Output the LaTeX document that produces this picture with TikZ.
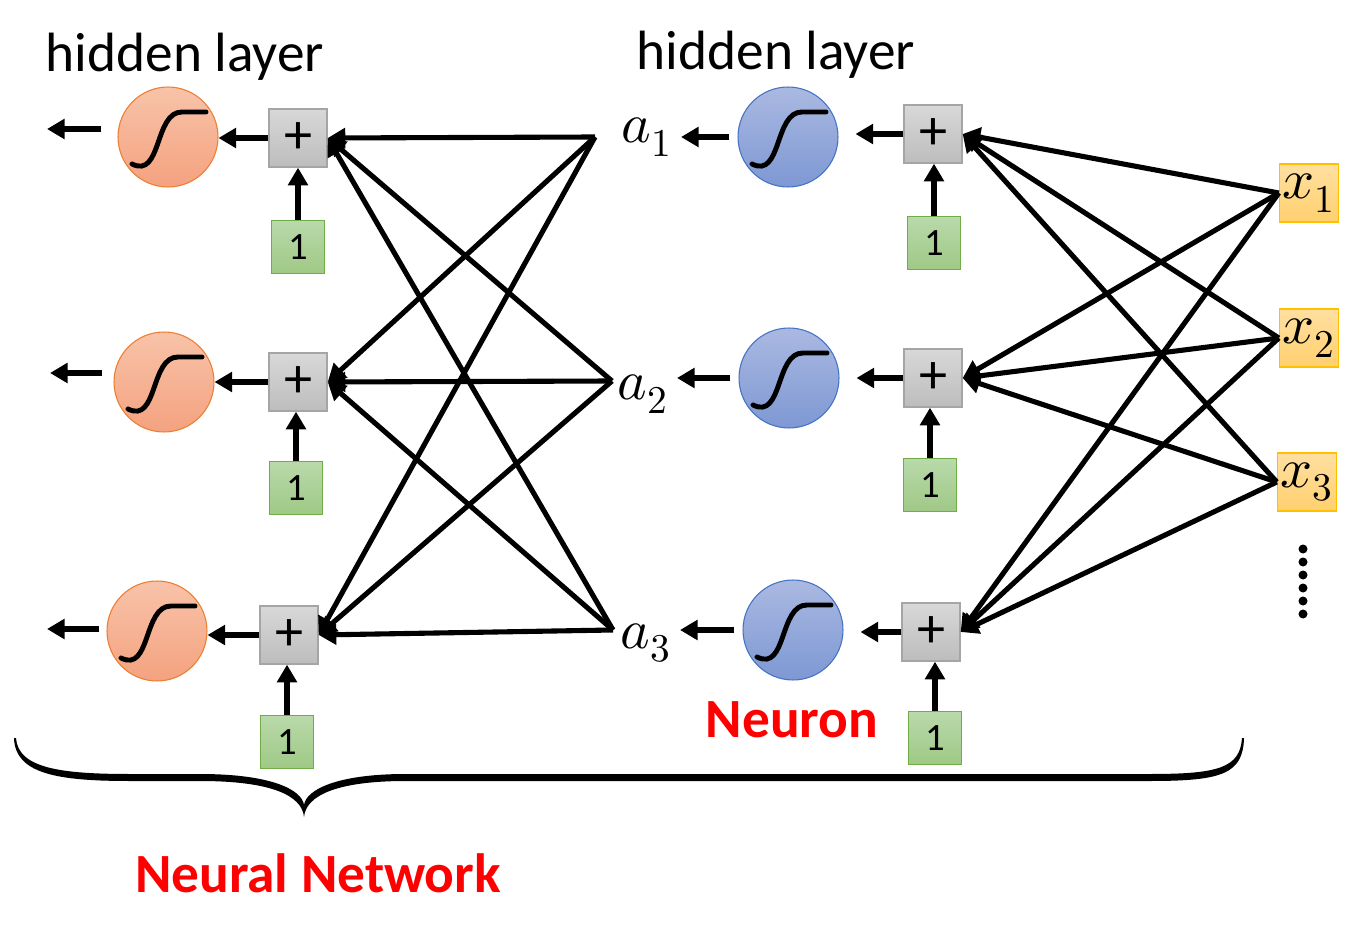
\documentclass[tikz,border=0pt]{standalone}
\usepackage{fontspec}
\setmainfont{Carlito}
\usepackage{unicode-math}
\setmathfont{Latin Modern Math}
\usetikzlibrary{arrows.meta,positioning,calc}

\definecolor{orgtop}{HTML}{F8C3A9}
\definecolor{orgbot}{HTML}{F4A27F}
\definecolor{orgline}{HTML}{ED7D31}
\definecolor{blutop}{HTML}{AAB9E1}
\definecolor{blubot}{HTML}{7E98D4}
\definecolor{bluline}{HTML}{4472C4}
\definecolor{graytop}{HTML}{D8D8D8}
\definecolor{graybot}{HTML}{BDBDBD}
\definecolor{grayline}{HTML}{A5A5A5}
\definecolor{grntop}{HTML}{B9D9AA}
\definecolor{grnbot}{HTML}{9FC986}
\definecolor{grnline}{HTML}{70AD47}
\definecolor{yeltop}{HTML}{FFDFA1}
\definecolor{yelbot}{HTML}{FFD06E}
\definecolor{yelline}{HTML}{FFC000}
\definecolor{labred}{HTML}{FF0000}

\tikzset{
  conn/.style={line width=2.9pt,-{Triangle[length=10pt,width=11pt]}},
  sigline/.style={line width=2.8pt,line cap=round},
  outneuron/.style={circle,minimum size=2cm,draw=orgline,line width=0.6pt,top color=orgtop,bottom color=orgbot},
  hidneuron/.style={circle,minimum size=2cm,draw=bluline,line width=0.6pt,top color=blutop,bottom color=blubot},
  sumbox/.style={draw=grayline,line width=0.8pt,minimum size=1.16cm,inner sep=0pt,top color=graytop,bottom color=graybot,font=\fontsize{32}{34}\selectfont},
  biasbox/.style={draw=grnline,line width=0.8pt,minimum size=1.05cm,inner sep=0pt,top color=grntop,bottom color=grnbot,font=\fontsize{22}{24}\selectfont},
  inbox/.style={draw=yelline,line width=0.8pt,minimum width=1.18cm,minimum height=1.16cm,inner sep=0pt,top color=yeltop,bottom color=yelbot,font=\fontsize{32}{34}\selectfont},
  actlabel/.style={anchor=base west,inner sep=0pt,font=\fontsize{32}{34}\selectfont},
  title/.style={anchor=base,font=\fontsize{31.5}{34}\selectfont},
  redtitle/.style={anchor=base,text=labred,font=\fontsize{31.5}{34}\selectfont\bfseries}
}

% sigmoid drawn inside a neuron
\newcommand{\sigmoid}[1]{\draw[sigline,shift={(#1.center)}] (-36,27) .. controls (-6,42) and (-14,-25) .. (14,-25) -- (38,-25);}

\begin{document}
\begin{tikzpicture}[x=0.02cm,y=-0.02cm]
  \useasboundingbox (0,0) rectangle (1356,942);

  % titles
  \node[title] (tl) at (185,72) {hidden layer};
  \node[title] (tr) at (776,70) {hidden layer};

  % second hidden layer (left)
  \node[outneuron] (o1) at (168,137) {};
  \node[outneuron] (o2) at (164,382) {};
  \node[outneuron] (o3) at (157,631) {};
  \node[sumbox] (s1) at (298,138) {+};
  \node[sumbox] (s2) at (298,382) {+};
  \node[sumbox] (s3) at (289,635) {+};
  \node[biasbox] (b1) at (298,247) {1};
  \node[biasbox] (b2) at (296,488) {1};
  \node[biasbox] (b3) at (287,742) {1};
  \sigmoid{o1}
  \sigmoid{o2}
  \sigmoid{o3}

  % outputs of first hidden layer
  \node[actlabel] (a1) at (621,143) {$a_1$};
  \node[actlabel] (a2) at (617,400) {$a_2$};
  \node[actlabel] (a3) at (620,648) {$a_3$};
  \coordinate (f1) at (595,137);
  \coordinate (f2) at (612,381);
  \coordinate (f3) at (613,630);

  % first hidden layer (right)
  \node[hidneuron] (h1) at (788,137) {};
  \node[hidneuron] (h2) at (789,378) {};
  \node[hidneuron] (h3) at (793,630) {};
  \node[sumbox] (r1) at (933,134) {+};
  \node[sumbox] (r2) at (933,378) {+};
  \node[sumbox] (r3) at (931,632) {+};
  \node[biasbox] (c1) at (934,243) {1};
  \node[biasbox] (c2) at (930,485) {1};
  \node[biasbox] (c3) at (935,738) {1};
  \sigmoid{h1}
  \sigmoid{h2}
  \sigmoid{h3}

  % inputs
  \node[inbox] (x1) at (1309,193) {$x_1$};
  \node[inbox] (x2) at (1309,338) {$x_2$};
  \node[inbox] (x3) at (1307,482) {$x_3$};
  \foreach \k in {0,...,5}
    \fill (1303,549+13*\k) circle (4.5);

  % weights
  \foreach \i in {1,2,3}
    \foreach \j in {1,2,3} {
      \draw[conn] (x\i.west) -- (r\j.east);
      \draw[conn] (f\i) -- (s\j.east);
    }

  % bias, sum and activation arrows
  \foreach \i in {1,2,3} {
    \draw[conn] (c\i.north) -- (c\i.north |- r\i.south);
    \draw[conn] (b\i.north) -- (b\i.north |- s\i.south);
    \draw[conn,shorten >=0.34cm] (r\i.west) -- (r\i.west -| h\i.east);
    \draw[conn,shorten <=0.16cm,shorten >=0.18cm] (h\i.west) -- (h\i.west -| a\i.east);
    \draw[conn] (s\i.west) -- (s\i.west -| o\i.east);
  }
  \coordinate (y1) at (47,129);
  \coordinate (y2) at (50,373);
  \coordinate (y3) at (47,629);
  \draw[conn] ([shift={(-16,-8)}]o1.west) -- (y1);
  \draw[conn] ([shift={(-11,-9)}]o2.west) -- (y2);
  \draw[conn] ([shift={(-7,-2)}]o3.west) -- (y3);

  \node[redtitle] (neuron) at (792,737) {Neuron};

  % brace under the whole network
  \fill (16,738) .. controls (18,768) and (60,774) .. (130,774) -- (200,774)
    .. controls (272,774) and (302,790) .. (304,805)
    .. controls (306,790) and (336,774) .. (406,774) -- (1150,774)
    .. controls (1218,774) and (1240,768) .. (1242,738)
    -- (1244,738) .. controls (1243,774) and (1222,781) .. (1150,781) -- (406,781)
    .. controls (338,781) and (306,795) .. (304,817)
    .. controls (302,795) and (270,781) .. (200,781) -- (130,781)
    .. controls (58,781) and (15,774) .. (14,738) -- cycle;
  \node[redtitle] (net) at (318,892) {Neural Network};
\end{tikzpicture}
\end{document}
